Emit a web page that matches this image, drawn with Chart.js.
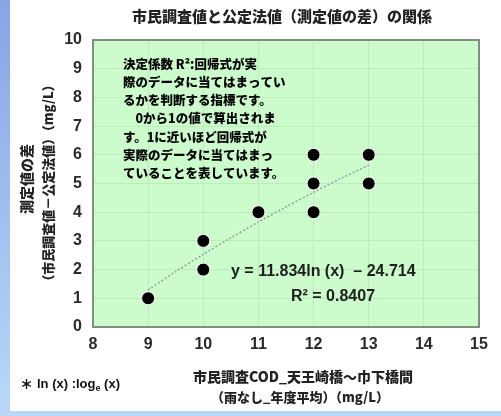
<!DOCTYPE html>
<html>
<head>
<meta charset="utf-8">
<script src="https://cdn.jsdelivr.net/npm/chart.js@4"></script>
<style>
  html, body { margin: 0; padding: 0; background: #fff; }
  #wrap { width: 501px; height: 416px; }
</style>
</head>
<body>
<div id="wrap"><canvas id="chartCanvas" width="501" height="416"></canvas></div>
<script>
var ctx = document.getElementById("chartCanvas").getContext("2d");

// datos medidos
var xValores = [9, 10, 10, 11, 12, 12, 12, 13, 13];
var yValores = [1, 2, 3, 4, 4, 5, 6, 5, 6];

// linea de tendencia
var tendX = [9, 9.5, 10, 10.5, 11, 11.5, 12, 12.5, 13];
var tendY = [1.29, 1.93, 2.53, 3.11, 3.66, 4.19, 4.69, 5.18, 5.64];

var xMin = 8, xMax = 15;
var yMin = 0, yMax = 10;

var titulo = "市民調査値と公定法値（測定値の差）の関係";
var tituloY1 = "測定値の差";
var tituloY2 = "（市民調査値－公定法値）（mg/L）";
var tituloX1 = "市民調査COD_天王崎橋～巾下橋間";
var tituloX2 = "（雨なし_年度平均）（mg/L）";
var nota = [
  "決定係数 R²:回帰式が実",
  "際のデータに当てはまってい",
  "るかを判断する指標です。",
  "　0から1の値で算出されま",
  "す。1に近いほど回帰式が",
  "実際のデータに当てはまっ",
  "ていることを表しています。"
];
var ecuacion = "y = 11.834ln (x)  – 24.714";
var r2 = "R² = 0.8407";

var fuenteJP = '"Noto Sans CJK JP", "Noto Sans", sans-serif';
var fuenteNum = "'Liberation Sans', Arial, sans-serif";

var puntos = xValores.map(function(x, i){ return {x: x, y: yValores[i]}; });
var tendencia = tendX.map(function(x, i){ return {x: x, y: tendY[i]}; });

var fondo = {
  id: "fondo",
  beforeDraw: function(chart){
    var c = chart.ctx;
    var g = c.createLinearGradient(0, 0, 0, 416);
    g.addColorStop(0, "#8aa3e6");
    g.addColorStop(1, "#b9d8f8");
    c.save();
    c.fillStyle = g;
    c.fillRect(0, 0, 501, 416);
    c.fillStyle = "#ffffff";
    c.fillRect(10, 0, 491, 411);
    var a = chart.chartArea;
    c.fillStyle = "#ccfccc";
    c.fillRect(a.left, a.top, a.right - a.left, a.bottom - a.top);
    c.restore();
  },
  afterDatasetsDraw: function(chart){
    var c = chart.ctx;
    var a = chart.chartArea;
    c.save();
    c.strokeStyle = "#7f8f80";
    c.lineWidth = 2;
    c.strokeRect(a.left, a.top, a.right - a.left, a.bottom - a.top);
    c.restore();
  },
  afterDraw: function(chart){
    var c = chart.ctx;
    c.save();
    c.fillStyle = "#222222";
    c.textBaseline = "middle";
    c.textAlign = "center";
    c.font = "900 15px " + fuenteJP;
    c.fillText(titulo, 282, 16);

    c.font = "900 14px " + fuenteJP;
    c.fillText(tituloX1, 303, 377);
    c.font = "900 13px " + fuenteJP;
    c.fillText(tituloX2, 300, 397);

    c.save();
    c.translate(27, 179);
    c.rotate(-Math.PI / 2);
    c.font = "900 14px " + fuenteJP;
    c.fillText(tituloY1, 0, 0);
    c.restore();
    c.save();
    c.translate(48, 183);
    c.rotate(-Math.PI / 2);
    c.font = "900 13px " + fuenteJP;
    c.fillText(tituloY2, 0, 0);
    c.restore();

    // nota al pie
    c.textAlign = "left";
    c.fillStyle = "#111111";
    c.font = "900 13px " + fuenteJP;
    c.fillText("＊", 20, 384);
    c.font = "bold 13px " + fuenteNum;
    var t1 = "ln (x) :log";
    c.fillText(t1, 37, 384);
    var w = c.measureText(t1).width;
    c.font = "bold 9px " + fuenteNum;
    c.fillText("e", 37 + w, 389);
    var w2 = c.measureText("e").width;
    c.font = "bold 13px " + fuenteNum;
    c.fillText(" (x)", 37 + w + w2, 384);

    // texto explicativo
    c.fillStyle = "#000000";
    c.font = "900 12.5px " + fuenteJP;
    nota.forEach(function(linea, i){
      c.fillText(linea, 123, 64 + i * 18.2);
    });

    // ecuacion
    c.fillStyle = "#1e1e1e";
    c.font = "bold 16px " + fuenteNum;
    c.fillText(ecuacion, 231, 272);
    c.fillText(r2, 291, 297);
    c.restore();
  }
};

var chartConfig = {
  type: "scatter",
  data: {
    datasets: [
      {
        label: "tendencia",
        data: tendencia,
        showLine: true,
        borderColor: "#8aa898",
        borderWidth: 1.5,
        borderDash: [2, 2],
        pointRadius: 0,
        fill: false,
        tension: 0.3,
        order: 2
      },
      {
        label: "datos",
        data: puntos,
        backgroundColor: "#000000",
        borderColor: "#ffffff",
        borderWidth: 1,
        pointRadius: 6.5,
        order: 1
      }
    ]
  },
  options: {
    responsive: false,
    animation: false,
    layout: {
      padding: { left: 0, right: 22, top: 40, bottom: 0 }
    },
    scales: {
      x: {
        type: "linear",
        min: xMin,
        max: xMax,
        afterFit: function(s){ s.height = 89; },
        ticks: {
          stepSize: 1,
          padding: 8,
          color: "#2a2a2a",
          font: { size: 16, weight: "bold", family: fuenteNum }
        },
        grid: { color: "#bcecbc", drawTicks: false, lineWidth: 1 },
        border: { display: false }
      },
      y: {
        type: "linear",
        min: yMin,
        max: yMax,
        afterFit: function(s){ s.width = 93; },
        ticks: {
          stepSize: 1,
          padding: 11,
          color: "#2a2a2a",
          font: { size: 16, weight: "bold", family: fuenteNum }
        },
        grid: { color: "#bcecbc", drawTicks: false, lineWidth: 1 },
        border: { display: false }
      }
    },
    plugins: {
      legend: { display: false },
      tooltip: { enabled: false }
    }
  },
  plugins: [fondo]
};

var myChart = new Chart(ctx, chartConfig);
</script>
</body>
</html>
